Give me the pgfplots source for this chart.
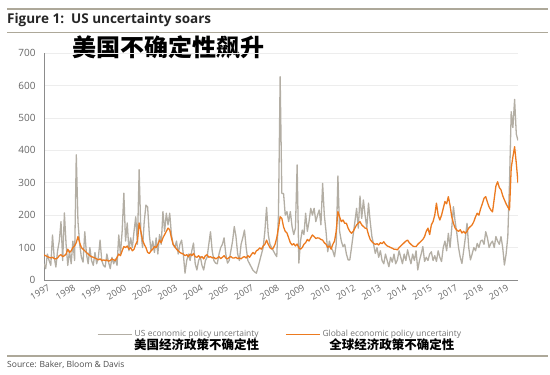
\documentclass[border=0pt]{standalone}
\usepackage{fontspec}
\setmainfont{Open Sans}
\newfontfamily\cjk{Noto Sans CJK SC}
\usepackage{pgfplots}
\usepackage{pgfplotstable}
\pgfplotsset{compat=1.18}
\definecolor{usgray}{HTML}{B3AEA4}
\definecolor{glorange}{HTML}{EC7A1F}
\definecolor{rulecol}{HTML}{ADA899}
\pgfplotstableread{
i us gl
0 50 77
1 35 75
2 80 72
3 60 70
4 45 68
5 139 70
6 70 66
7 40 65
8 90 68
9 120 75
10 180 78
11 60 72
12 207 75
13 110 80
14 45 95
15 90 85
16 50 90
17 120 100
18 60 105
19 386 115
20 180 134
21 110 115
22 70 100
23 55 95
24 149 90
25 80 85
26 50 80
27 100 75
28 60 72
29 45 70
30 85 68
31 50 65
32 70 62
33 123 65
34 60 60
35 45 62
36 40 60
37 80 62
38 55 58
39 35 60
40 70 65
41 50 62
42 65 60
43 45 70
44 139 80
45 80 75
46 150 90
47 268 103
48 120 100
49 176 105
50 90 95
51 130 100
52 100 90
53 150 95
54 195 110
55 110 120
56 340 176
57 150 150
58 100 123
59 180 110
60 231 100
61 225 85
62 140 82
63 90 90
64 120 95
65 85 103
66 130 100
67 80 110
68 140 123
69 110 115
70 211 130
71 150 140
72 206 150
73 170 160
74 206 155
75 140 130
76 110 110
77 100 103
78 120 95
79 80 90
80 110 85
81 123 82
82 80 80
83 21 75
84 60 78
85 80 72
86 60 80
87 90 75
88 114 82
89 50 72
90 31 70
91 60 75
92 72 68
93 45 72
94 31 65
95 60 75
96 70 78
97 110 70
98 149 72
99 90 68
100 60 70
101 52 65
102 50 68
103 80 72
104 100 66
105 110 70
106 130 75
107 80 68
108 52 65
109 60 70
110 90 72
111 120 68
112 165 68
113 134 70
114 80 66
115 60 68
116 110 65
117 130 70
118 154 72
119 100 68
120 60 75
121 50 70
122 40 78
123 30 85
124 25 80
125 21 90
126 40 93
127 60 99
128 80 95
129 100 105
130 150 110
131 224 123
132 140 110
133 110 100
134 100 95
135 90 99
136 80 110
137 72 130
138 200 160
139 627 195
140 267 190
141 267 164
142 200 150
143 211 145
144 180 130
145 211 115
146 165 108
147 140 112
148 160 105
149 355 111
150 52 99
151 120 95
152 154 100
153 140 110
154 206 115
155 150 125
156 180 120
157 221 130
158 200 139
159 221 134
160 180 128
161 200 130
162 216 129
163 170 125
164 298 123
165 200 115
166 150 110
167 87 100
168 120 105
169 100 95
170 90 110
171 72 120
172 110 150
173 321 211
174 150 195
175 120 180
176 103 185
177 110 175
178 80 175
179 62 160
180 62 150
181 100 144
182 140 150
183 180 160
184 221 170
185 160 175
186 259 180
187 190 170
188 247 165
189 200 160
190 160 159
191 237 140
192 180 125
193 134 118
194 110 113
195 82 110
196 100 112
197 70 108
198 90 115
199 60 112
200 50 118
201 80 110
202 60 105
203 41 103
204 70 100
205 55 98
206 80 95
207 50 95
208 62 93
209 90 100
210 70 105
211 50 110
212 80 115
213 60 120
214 93 123
215 70 115
216 50 110
217 80 105
218 60 103
219 90 103
220 31 110
221 60 115
222 80 120
223 103 125
224 57 134
225 70 150
226 60 160
227 80 140
228 87 170
229 60 180
230 75 200
231 57 237
232 90 200
233 70 185
234 57 200
235 100 221
236 120 242
237 90 235
238 144 257
239 100 230
240 160 195
241 226 175
242 180 160
243 144 154
244 100 150
245 70 155
246 51 145
247 90 150
248 130 144
249 175 150
250 100 160
251 62 165
252 80 170
253 100 180
254 90 195
255 113 206
256 100 200
257 120 220
258 123 235
259 110 252
260 149 257
261 130 240
262 100 225
263 113 216
264 120 210
265 100 250
266 134 290
267 120 303
268 110 285
269 134 278
270 100 260
271 46 247
272 80 235
273 134 225
274 300 216
275 519 345
276 470 380
277 557 411
278 450 360
279 430 299
}\epu
\begin{document}
\begin{tikzpicture}[x=1pt,y=1pt]
\path[use as bounding box] (0,0) rectangle (550,375);
% header rules and titles
\draw[rulecol, line width=2pt] (7,366) -- (548,366);
\node[anchor=west, inner sep=0pt, text=black!85] at (7,355.5) {\fontsize{13.5}{15}\selectfont\bfseries Figure 1:\ \ US uncertainty soars};
\draw[rulecol, line width=0.8pt] (7,343) -- (548,343);
\node[anchor=west, inner sep=0pt] at (72,328) {\cjk\bfseries\fontsize{24}{26}\selectfont 美国不确定性飙升};
\begin{axis}[
  at={(44pt,95pt)}, anchor=south west,
  scale only axis, width=474pt, height=227pt,
  xmin=0, xmax=279, ymin=0, ymax=700,
  ytick={0,100,...,700},
  xtick={0,15,...,270},
  xticklabels={1997,1998,1999,2000,2002,2003,2004,2005,2007,2008,2009,2010,2012,2013,2014,2015,2017,2018,2019},
  axis lines=left,
  axis line style={-, draw=black!45, line width=0.9pt},
  major tick length=0pt,
  ymajorgrids,
  grid style={draw=black!7, line width=0.6pt},
  /pgf/number format/assume math mode=true,
  yticklabel style={font=\fontsize{10}{12}\selectfont, text=black!60, xshift=-5pt},
  xticklabel style={font=\fontsize{9}{10}\selectfont, text=black!60, rotate=30, anchor=north east, yshift=-4pt, xshift=2pt, inner sep=1pt},
  legend style={at={(axis description cs:0.498,-0.268)}, anchor=center, draw=none, fill=none,
    cells={align=center}, /tikz/every even column/.append style={column sep=24pt}},
  legend columns=2,
  legend image code/.code={\draw[#1] (0pt,6pt) -- (34pt,6pt);},
]
\addplot[usgray, line width=1.3pt, line join=round] table[x=i, y=us] {\epu};
\addlegendentry{{\fontsize{8.5}{10}\selectfont\color{black!55}US economic policy uncertainty}\\[-1pt]{\cjk\bfseries\fontsize{12.5}{14}\selectfont 美国经济政策不确定性}}
\addplot[glorange, line width=1.3pt, line join=round] table[x=i, y=gl] {\epu};
\addlegendentry{{\fontsize{8.5}{10}\selectfont\color{black!55}Global economic policy uncertainty}\\[-1pt]{\cjk\bfseries\fontsize{12.5}{14}\selectfont 全球经济政策不确定性}}
\end{axis}
\draw[rulecol, line width=1.2pt] (7,19) -- (548,19);
\node[anchor=west, inner sep=0pt, text=black!70] at (7,10) {\fontsize{8.5}{10}\selectfont Source: Baker, Bloom \& Davis};
\end{tikzpicture}
\end{document}
